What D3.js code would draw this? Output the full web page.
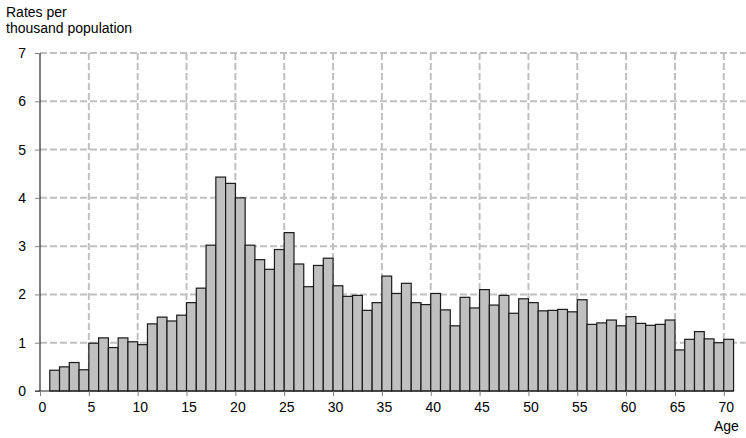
<!DOCTYPE html>
<meta charset="utf-8">
<head>
	<style type="text/css">
		body { margin: 0; background: #fff; }
		text { font-family: Arial, "Liberation Sans", sans-serif; fill: #000; }
		.grid line { stroke: #c0c0c0; stroke-width: 2; stroke-dasharray: 7,3; }
		.bar { fill: #c0c0c0; stroke: #1a1a1a; stroke-width: 1.2; }
	</style>
	<title>Rates per thousand population by age</title>
</head>
<script src="https://cdnjs.cloudflare.com/ajax/libs/d3/7.8.5/d3.min.js"></script>
<svg width="746" height="438" id="svg1"></svg>
<script>
	// ages 1..70, each bar spans [age, age+1]
	const ages = d3.range(1, 71);
	const rates = [
		0.43, 0.50, 0.59, 0.44, 0.99, 1.10, 0.90, 1.10, 1.02, 0.96,
		1.39, 1.53, 1.45, 1.57, 1.83, 2.13, 3.02, 4.43, 4.30, 4.00,
		3.02, 2.72, 2.52, 2.93, 3.28, 2.63, 2.16, 2.60, 2.75, 2.18,
		1.96, 1.98, 1.67, 1.83, 2.38, 2.02, 2.23, 1.83, 1.79, 2.02,
		1.68, 1.35, 1.94, 1.72, 2.10, 1.78, 1.98, 1.61, 1.91, 1.83,
		1.66, 1.67, 1.69, 1.64, 1.89, 1.38, 1.41, 1.47, 1.35, 1.54,
		1.40, 1.36, 1.38, 1.47, 0.85, 1.07, 1.23, 1.08, 1.00, 1.07
	];
	const yTicks = [0, 1, 2, 3, 4, 5, 6, 7];
	const xTicks = d3.range(0, 71, 5);

	const data = ages.map((a, i) => ({age: a, rate: rates[i]}));

	const svg1 = d3.select('#svg1');
	const margin = { top: 53, left: 40 };
	const innerHeight = 391 - margin.top;

	const xScale = d3.scaleLinear().domain([0, 70]).range([0, 683.8]);
	const yScale = d3.scaleLinear().domain([0, 7]).range([innerHeight, 0]);

	const g = svg1.append('g')
		.attr('transform', `translate(${margin.left},${margin.top})`);

	// grid
	const grid = g.append('g').attr('class', 'grid');
	grid.selectAll('.hgrid')
		.data(yTicks.slice(1))
		.enter().append('line')
		.attr('x1', 0)
		.attr('x2', xScale(71) + 12)
		.attr('y1', d => yScale(d))
		.attr('y2', d => yScale(d));
	grid.selectAll('.vgrid')
		.data(xTicks.slice(1))
		.enter().append('line')
		.attr('x1', d => xScale(d))
		.attr('x2', d => xScale(d))
		.attr('y1', 0)
		.attr('y2', innerHeight);

	// bars
	g.selectAll('.bar')
		.data(data)
		.enter().append('rect')
		.attr('class', 'bar')
		.attr('x', d => xScale(d.age))
		.attr('y', d => yScale(d.rate))
		.attr('width', d => xScale(d.age + 1) - xScale(d.age))
		.attr('height', d => innerHeight - yScale(d.rate));

	// y axis
	const yAxis = d3.axisLeft(yScale)
		.tickValues(yTicks)
		.tickFormat(d3.format('d'))
		.tickSize(5)
		.tickPadding(9);
	const yAxisG = g.append('g').call(yAxis);
	yAxisG.select('.domain').attr('stroke', '#000').attr('d', `M0,0V${innerHeight}`);
	yAxisG.selectAll('.tick line').attr('stroke', '#808080');
	yAxisG.selectAll('text').attr('font-size', '14px').attr('fill', '#000');

	// x axis
	const xAxis = d3.axisBottom(xScale)
		.tickValues(xTicks)
		.tickFormat(d3.format('d'))
		.tickSize(5)
		.tickPadding(6);
	const xAxisG = g.append('g')
		.attr('transform', `translate(0,${innerHeight})`)
		.call(xAxis);
	xAxisG.select('.domain').attr('stroke', '#222').attr('d', `M-5,0H${xScale(71)}`);
	xAxisG.selectAll('.tick line').attr('stroke', '#808080');
	xAxisG.selectAll('text').attr('font-size', '14px').attr('fill', '#000').attr('dx', 2);

	// labels
	svg1.append('text')
		.attr('x', 6)
		.attr('y', 17)
		.attr('font-size', '14px')
		.text('Rates per');
	svg1.append('text')
		.attr('x', 6)
		.attr('y', 33)
		.attr('font-size', '14px')
		.text('thousand population');
	svg1.append('text')
		.attr('x', 714)
		.attr('y', 431)
		.attr('font-size', '14px')
		.text('Age');
</script>
